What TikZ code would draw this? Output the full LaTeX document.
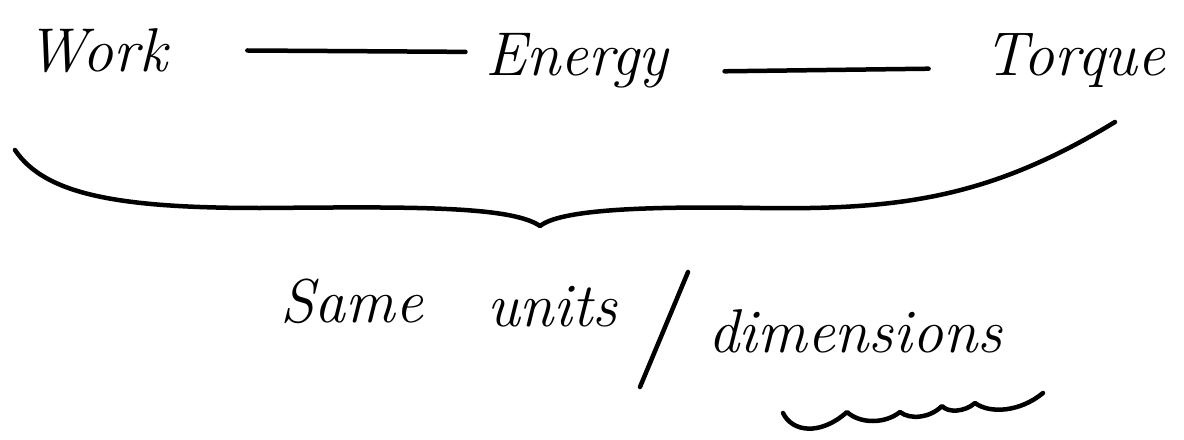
\documentclass[tikz,border=0pt]{standalone}
\usetikzlibrary{positioning}

\begin{document}
\begin{tikzpicture}[
  x=0.025cm,y=-0.025cm,
  word/.style={font=\fontsize{44}{48}\selectfont\itshape,inner sep=0pt,anchor=base},
  ink/.style={line width=3.2pt,line cap=round,line join=round}
]
\useasboundingbox (0,0) rectangle (1184,440);
% top row
\node[word] (work) at (97,72) {Work};
\node[word] (energy) at (577,76) {Energy};
\node[word] (torque) at (1075,76) {Torque};
\draw[ink,shorten <=2cm,shorten >=0.5cm] ([yshift=0.55cm]work.base east) -- ([yshift=0.6cm]energy.base west);
\draw[ink,shorten <=1.4cm,shorten >=1.4cm] ([yshift=0.1cm]energy.base east) -- ([yshift=0.2cm]torque.base west);
% brace under the row
\coordinate (bl) at (15,150);
\coordinate (tip) at (540,226);
\coordinate (br) at (1115,122);
\draw[ink] (bl) .. controls (45,195) and (120,208) .. (260,208)
  .. controls (400,207) and (510,205) .. (tip)
  .. controls (560,210) and (640,206) .. (760,208)
  .. controls (900,210) and (990,198) .. (br);
% bottom line
\node[word] (same) at (352,322) {Same};
\node[word] (units) at (552,326) {units};
\node[word] (dims) at (855,352) {dimensions};
\coordinate (sl1) at (688,272);
\coordinate (sl2) at (640,387);
\draw[ink] (sl1) -- (sl2);
% wavy mark
\coordinate (w1) at (783,413);
\coordinate (w2) at (1043,393);
\draw[ink] (w1) .. controls (792,432) and (820,436) .. (847,412)
  .. controls (860,424) and (885,424) .. (900,412)
  .. controls (910,420) and (930,418) .. (942,406)
  .. controls (948,413) and (965,412) .. (975,403)
  .. controls (990,414) and (1020,412) .. (w2);
\end{tikzpicture}
\end{document}
